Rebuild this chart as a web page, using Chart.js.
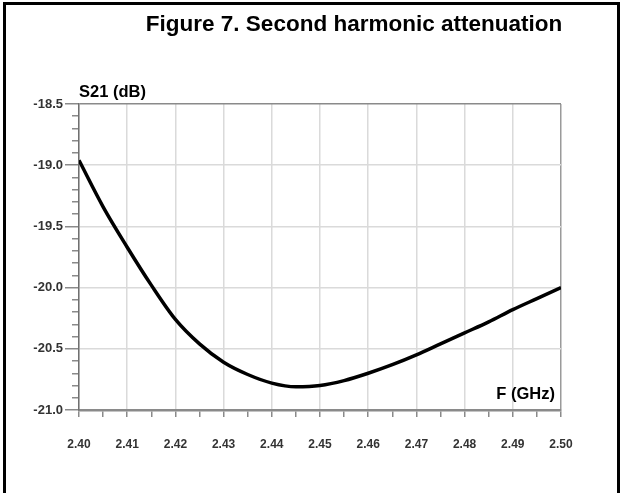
<!DOCTYPE html>
<html>
<head>
<meta charset="utf-8">
<script src="https://cdn.jsdelivr.net/npm/chart.js@4.4.0/dist/chart.umd.min.js"></script>
<style>
  html, body { margin: 0; padding: 0; background: #fff; overflow: hidden; }
  #frame { position: absolute; left: 3px; top: 2px; width: 611px; height: 520px; border: 3px solid #000; border-bottom: none; }
  #s21Chart { position: absolute; left: 0; top: 0; }
</style>
</head>
<body>
<div id="frame"></div>
<canvas id="s21Chart" width="621" height="493"></canvas>
<script>
// Data
const freqGHz = [2.400, 2.405, 2.410, 2.415, 2.420, 2.425, 2.430, 2.435, 2.440, 2.445, 2.450,
                 2.455, 2.460, 2.465, 2.470, 2.475, 2.480, 2.485, 2.490, 2.495, 2.500];
const s21dB = [-18.96, -19.34, -19.67, -19.98, -20.26, -20.46, -20.61, -20.71, -20.78, -20.81, -20.80,
               -20.76, -20.70, -20.63, -20.55, -20.46, -20.37, -20.28, -20.18, -20.09, -20.00];
const xTickLabels = ['2.40', '2.41', '2.42', '2.43', '2.44', '2.45', '2.46', '2.47', '2.48', '2.49', '2.50'];
const yTickLabels = ['-21.0', '-20.5', '-20.0', '-19.5', '-19.0', '-18.5'];
const chartTitle = 'Figure 7. Second harmonic attenuation';
const yAxisTitle = 'S21 (dB)';
const xAxisTitle = 'F (GHz)';

const FONT = '"Liberation Sans", Arial, sans-serif';

// tick positions: x every 0.005 GHz, y every 0.1 dB
const xTicks = [];
for (let i = 0; i <= 20; i++) xTicks.push(2.40 + i * 0.005);
const yTicks = [];
for (let i = 0; i <= 25; i++) yTicks.push(-21.0 + i * 0.1);

// title and axis captions
const figureText = {
    id: 'figureText',
    afterDraw(chart) {
        const { ctx, chartArea } = chart;
        ctx.save();
        ctx.fillStyle = '#000';
        ctx.textBaseline = 'alphabetic';
        ctx.font = 'bold 22.5px ' + FONT;
        ctx.textAlign = 'center';
        ctx.fillText(chartTitle, 354, 31);
        ctx.font = 'bold 16.5px ' + FONT;
        ctx.textAlign = 'left';
        ctx.fillText(yAxisTitle, chartArea.left, chartArea.top - 7);
        ctx.textAlign = 'right';
        ctx.fillText(xAxisTitle, chartArea.right - 6, chartArea.bottom - 11);
        ctx.restore();
    }
};

const ctx = document.getElementById('s21Chart').getContext('2d');
new Chart(ctx, {
    type: 'line',
    data: {
        datasets: [{
            data: freqGHz.map((f, i) => ({ x: f, y: s21dB[i] })),
            borderColor: '#000',
            borderWidth: 3.5,
            pointRadius: 0,
            cubicInterpolationMode: 'monotone',
            fill: false
        }]
    },
    options: {
        responsive: false,
        animation: false,
        layout: { padding: { left: 0, right: 60, top: 104, bottom: 0 } },
        plugins: {
            legend: { display: false },
            tooltip: { enabled: false }
        },
        scales: {
            x: {
                type: 'linear',
                position: 'bottom',
                min: 2.40,
                max: 2.50,
                afterFit: s => { s.height = 83; },
                afterBuildTicks: s => { s.ticks = xTicks.map(v => ({ value: v })); },
                grid: {
                    color: c => c.index % 2 ? 'rgba(0,0,0,0)' : (c.index === 20 ? '#9a9a9a' : '#dadada'),
                    lineWidth: 1.5,
                    tickLength: 7,
                    tickColor: '#8a8a8a',
                    tickWidth: 1.5
                },
                border: { color: '#8a8a8a', width: 2.5 },
                ticks: {
                    autoSkip: false,
                    maxRotation: 0,
                    padding: 20,
                    color: '#333',
                    font: { family: FONT, size: 12, weight: 'bold' },
                    callback: (v, i) => i % 2 === 0 ? xTickLabels[i / 2] : ''
                }
            },
            y: {
                type: 'linear',
                min: -21.0,
                max: -18.5,
                afterFit: s => { s.width = 79; },
                afterBuildTicks: s => { s.ticks = yTicks.map(v => ({ value: v })); },
                grid: {
                    color: c => c.index % 5 ? 'rgba(0,0,0,0)' : (c.index === 25 ? '#8a8a8a' : '#dadada'),
                    lineWidth: 1.5,
                    tickLength: 14,
                    tickColor: '#8a8a8a',
                    tickWidth: 1.5,
                    tickBorderDash: c => c.index % 5 ? [0, 7, 7] : []
                },
                border: { color: '#707070', width: 1.5 },
                ticks: {
                    autoSkip: false,
                    padding: 2,
                    color: '#333',
                    font: { family: FONT, size: 13, weight: 'bold' },
                    callback: (v, i) => i % 5 === 0 ? yTickLabels[i / 5] : ''
                }
            }
        }
    },
    plugins: [figureText]
});
</script>
</body>
</html>
